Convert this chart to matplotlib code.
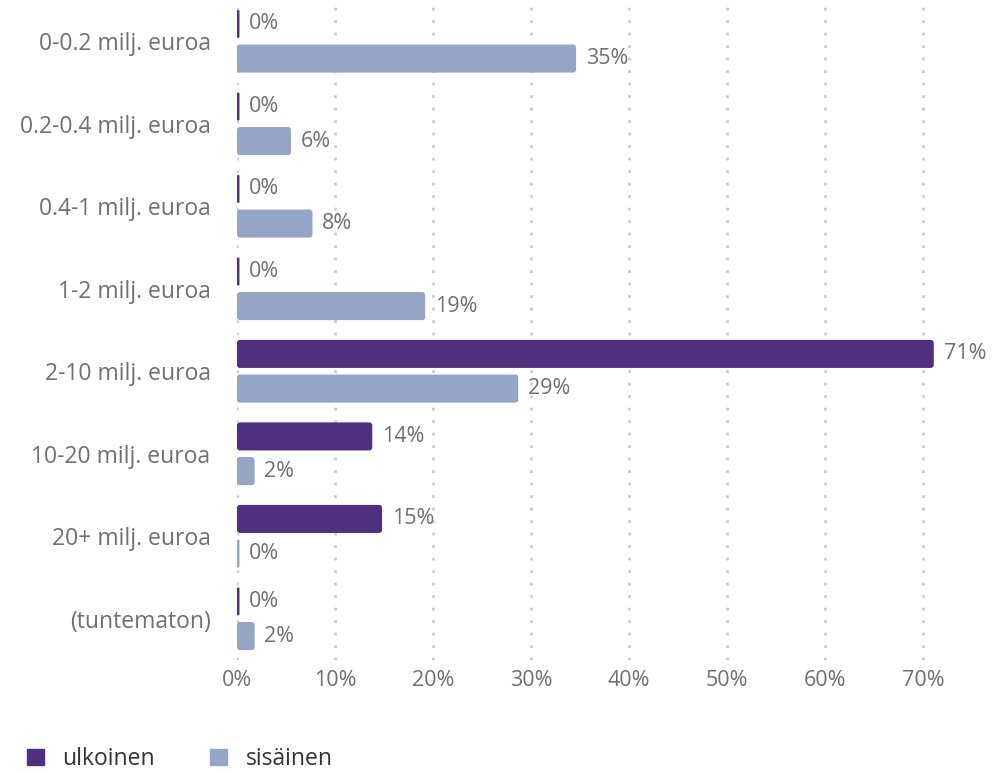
import matplotlib
matplotlib.use("Agg")
import matplotlib.pyplot as plt
from matplotlib.patches import Patch, FancyBboxPatch
import numpy as np

plt.rcParams['font.family'] = ['Open Sans', 'DejaVu Sans']

categories = ["0-0.2 milj. euroa", "0.2-0.4 milj. euroa", "0.4-1 milj. euroa", "1-2 milj. euroa",
              "2-10 milj. euroa", "10-20 milj. euroa", "20+ milj. euroa", "(tuntematon)"]
series_names = ["ulkoinen", "sisäinen"]
ulkoinen = [0, 0, 0, 0, 71.1, 13.8, 14.8, 0]
sisainen = [34.6, 5.5, 7.7, 19.2, 28.7, 1.8, 0, 1.8]
xticks = [0, 10, 20, 30, 40, 50, 60, 70]

c_ulk = "#4e307e"
c_sis = "#95a5c6"
txt = "#707070"

W, H = 996, 773
fig = plt.figure(figsize=(W/100, H/100), dpi=100)
ax = fig.add_axes([237/W, 1-660/H, (98*7.2)/W, 660/H])

y = np.arange(len(categories))
h = 0.34
off = 0.21
min_w = 0.25
px_x = 98/10.0     # pixels per x unit
px_y = 660/8.0     # pixels per y unit
for vals, col, sgn in [(ulkoinen, c_ulk, -1), (sisainen, c_sis, 1)]:
    widths = [max(v, min_w) for v in vals]
    bars = ax.barh(y + sgn*off, widths, height=h, color=col, zorder=3)
    for b in bars:
        x0, y0 = b.get_x(), b.get_y()
        bw, bh = b.get_width(), b.get_height()
        r = min(0.3, bw/2)
        fb = FancyBboxPatch((x0, y0), bw, bh,
                            boxstyle=f"round,pad=0,rounding_size={r}",
                            mutation_aspect=px_x/px_y,
                            facecolor=col, edgecolor='none', zorder=3)
        b.set_visible(False)
        ax.add_patch(fb)
    for yi, v, w in zip(y, vals, widths):
        ax.text(w + 1.0, yi + sgn*off, f"{round(v):.0f}%", va='center', ha='left',
                fontsize=15.5, color=txt, zorder=4)

ax.set_ylim(len(categories) - 0.5, -0.5)
ax.set_xlim(0, 72)
ax.set_yticks(y)
ax.set_yticklabels(categories, fontsize=16.5, color=txt)
ax.set_xticks(xticks)
ax.set_xticklabels([f"{t}%" for t in xticks], fontsize=15.5, color=txt)
ax.tick_params(axis='both', length=0)
ax.tick_params(axis='y', pad=19)
ax.tick_params(axis='x', pad=7)
for s in ax.spines.values():
    s.set_visible(False)
ax.grid(axis='x', linestyle=(0, (1, 3.5)), color='#cccccc', linewidth=2, zorder=0)
ax.grid(axis='y', visible=False)

handles = [Patch(facecolor=c_ulk, edgecolor=c_ulk), Patch(facecolor=c_sis, edgecolor=c_sis)]
fig.legend(handles, series_names, loc='center left', bbox_to_anchor=(27/W, 1-759/H), ncol=2,
           frameon=False, fontsize=16.5, handlelength=0.75, handleheight=0.75,
           borderaxespad=0, borderpad=0,
           columnspacing=2.4, handletextpad=0.8, labelcolor='#333333')

fig.savefig("out.png", dpi=100)
